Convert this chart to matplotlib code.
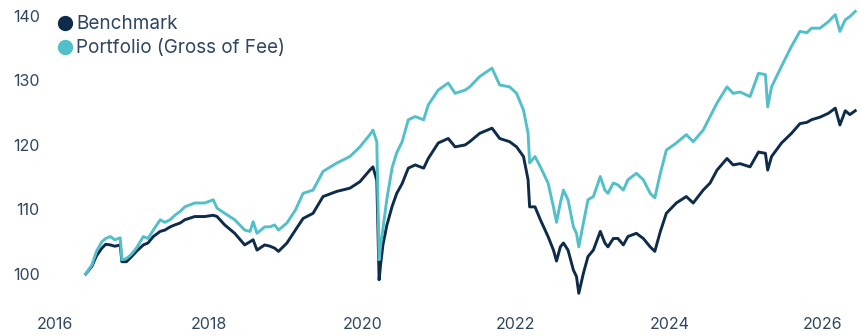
import matplotlib.pyplot as plt
from matplotlib.lines import Line2D

# decimal years
years = [2016.40, 2016.48, 2016.54, 2016.61, 2016.66, 2016.72, 2016.78, 2016.85, 2016.87, 2016.93,
         2016.99, 2017.06, 2017.15, 2017.21, 2017.28, 2017.37, 2017.43, 2017.50, 2017.56, 2017.63,
         2017.69, 2017.82, 2017.95, 2018.06, 2018.11, 2018.21, 2018.34, 2018.47, 2018.54, 2018.58,
         2018.63, 2018.73, 2018.80, 2018.86, 2018.91, 2019.02, 2019.13, 2019.23, 2019.36, 2019.49,
         2019.67, 2019.84, 2019.97, 2020.10, 2020.14, 2020.19, 2020.22, 2020.24, 2020.27, 2020.32,
         2020.39, 2020.45, 2020.52, 2020.60, 2020.69, 2020.80, 2020.86, 2020.99, 2021.12, 2021.21,
         2021.34, 2021.40, 2021.53, 2021.69, 2021.79, 2021.92, 2022.01, 2022.10, 2022.16, 2022.18,
         2022.25, 2022.32, 2022.42, 2022.49, 2022.53, 2022.58, 2022.62, 2022.68, 2022.75, 2022.79,
         2022.82, 2022.88, 2022.94, 2023.01, 2023.10, 2023.16, 2023.20, 2023.27, 2023.33, 2023.40,
         2023.46, 2023.57, 2023.66, 2023.75, 2023.81, 2023.88, 2023.96, 2024.09, 2024.22, 2024.31,
         2024.44, 2024.53, 2024.62, 2024.75, 2024.83, 2024.92, 2025.05, 2025.16, 2025.25, 2025.28,
         2025.33, 2025.46, 2025.59, 2025.70, 2025.79, 2025.85, 2025.96, 2026.07, 2026.16, 2026.22,
         2026.29, 2026.35, 2026.42]

benchmark = [100.0, 101.2, 102.8, 104.0, 104.6, 104.5, 104.3, 104.5, 101.9, 101.9,
             102.6, 103.5, 104.5, 104.8, 105.8, 106.6, 106.8, 107.3, 107.6, 107.9,
             108.4, 108.9, 108.9, 109.1, 108.9, 107.6, 106.3, 104.5, 105.0, 105.3,
             103.7, 104.5, 104.3, 104.0, 103.5, 104.8, 106.8, 108.6, 109.4, 112.0,
             112.8, 113.3, 114.3, 116.1, 116.6, 114.5, 99.1, 101.5, 104.5, 107.5,
             110.5, 112.5, 114.0, 116.4, 116.9, 116.4, 117.9, 120.3, 121.0, 119.7,
             120.0, 120.5, 121.8, 122.6, 121.0, 120.5, 119.7, 118.2, 114.6, 110.4,
             110.4, 108.4, 105.8, 103.7, 102.0, 104.2, 104.8, 103.7, 100.6, 99.6,
             97.0, 100.1, 102.7, 103.7, 106.6, 104.8, 104.2, 105.5, 105.5, 104.5,
             105.8, 106.3, 105.5, 104.2, 103.5, 106.5, 109.4, 111.0, 112.0, 111.0,
             113.0, 114.1, 116.1, 117.9, 116.9, 117.1, 116.6, 118.9, 118.7, 116.1,
             118.2, 120.3, 121.8, 123.3, 123.5, 123.9, 124.3, 124.9, 125.7, 123.1,
             125.3, 124.7, 125.3]

portfolio = [100.0, 101.4, 103.5, 105.0, 105.5, 105.8, 105.3, 105.6, 102.2, 102.4,
             103.0, 104.0, 105.8, 105.5, 106.8, 108.4, 108.0, 108.4, 109.1, 109.7,
             110.4, 111.0, 111.0, 111.5, 110.2, 109.4, 108.4, 106.8, 106.6, 108.1,
             106.3, 107.3, 107.3, 107.6, 106.8, 107.9, 109.9, 112.5, 113.0, 115.9,
             117.2, 118.2, 119.7, 121.6, 122.3, 120.5, 102.2, 104.5, 107.0, 111.5,
             116.5, 118.8, 120.5, 123.9, 124.4, 123.9, 126.2, 128.5, 129.6, 128.0,
             128.5, 129.0, 130.6, 131.9, 129.3, 129.0, 128.0, 125.4, 121.8, 117.2,
             118.2, 116.6, 114.1, 110.4, 108.0, 111.0, 113.0, 111.5, 107.3, 106.3,
             104.2, 107.9, 111.5, 112.0, 115.1, 113.0, 112.5, 114.1, 113.8, 113.0,
             114.6, 115.6, 114.6, 112.5, 111.8, 115.5, 119.2, 120.3, 121.6, 120.5,
             122.3, 124.4, 126.5, 129.0, 128.0, 128.2, 127.5, 131.1, 130.9, 125.9,
             129.0, 132.2, 135.3, 137.6, 137.4, 138.1, 138.1, 139.1, 140.2, 137.6,
             139.4, 139.9, 140.7]

tick_years = [2016, 2018, 2020, 2022, 2024, 2026]
tick_values = [100, 110, 120, 130, 140]

navy = '#0e2c4a'
teal = '#52bfc9'
text_color = '#2f4660'

plt.rcParams['font.family'] = ['Inter', 'DejaVu Sans']

fig = plt.figure(figsize=(8.62, 3.36), dpi=100)
ax = fig.add_axes([0.0557, 0.0923, 0.942, 0.893])

ax.plot(years, benchmark, color=navy, lw=2.1, label='Benchmark')
ax.plot(years, portfolio, color=teal, lw=2.1, label='Portfolio (Gross of Fee)')

ax.set_xlim(2015.909, 2026.482)
ax.set_ylim(95.19, 141.7)
ax.set_xticks(tick_years)
ax.set_xticklabels([str(y) for y in tick_years])
ax.set_yticks(tick_values)
ax.tick_params(length=0, labelsize=11.5, colors=text_color)
ax.tick_params(axis='x', pad=9)
ax.tick_params(axis='y', pad=6)
for s in ax.spines.values():
    s.set_visible(False)

handles = [Line2D([], [], ls='', marker='o', ms=10, color=navy),
           Line2D([], [], ls='', marker='o', ms=10, color=teal)]
ax.legend(handles, ['Benchmark', 'Portfolio (Gross of Fee)'], loc='upper left',
          bbox_to_anchor=(-0.004, 1.01), frameon=False, fontsize=13.6,
          handlelength=0.75, handletextpad=0.2, labelspacing=0.33,
          borderpad=0.2, labelcolor=text_color)

fig.savefig('out.png', dpi=100)
